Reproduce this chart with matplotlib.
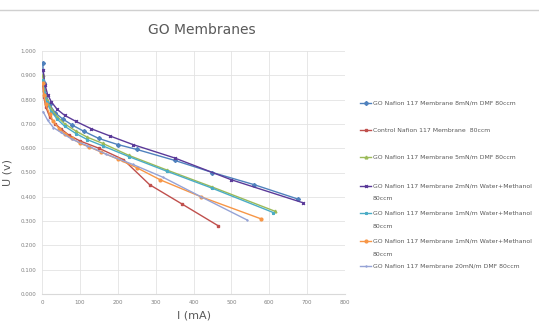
import matplotlib.pyplot as plt
import matplotlib.lines as mlines

# I (mA) / U (V)
i_8mn_dmf = [2, 5, 10, 20, 35, 55, 80, 110, 150, 200, 250, 350, 450, 560, 677]
u_8mn_dmf = [0.95, 0.87, 0.82, 0.78, 0.745, 0.72, 0.695, 0.67, 0.64, 0.615, 0.595, 0.55, 0.50, 0.45, 0.39]

i_control = [2, 5, 10, 20, 35, 50, 70, 100, 150, 215, 284, 370, 466]
u_control = [0.86, 0.81, 0.77, 0.73, 0.70, 0.68, 0.655, 0.63, 0.60, 0.553, 0.45, 0.37, 0.28]

i_5mn_dmf = [2, 6, 12, 25, 40, 60, 90, 120, 160, 230, 330, 450, 616]
u_5mn_dmf = [0.90, 0.84, 0.80, 0.76, 0.73, 0.70, 0.67, 0.645, 0.62, 0.57, 0.51, 0.44, 0.34]

i_2mn_wm = [3, 8, 15, 25, 40, 60, 90, 130, 180, 240, 350, 500, 690]
u_2mn_wm = [0.92, 0.86, 0.82, 0.79, 0.76, 0.735, 0.71, 0.68, 0.65, 0.615, 0.56, 0.47, 0.375]

i_1mn_wm_a = [2, 6, 12, 25, 40, 60, 90, 120, 160, 230, 330, 450, 611]
u_1mn_wm_a = [0.88, 0.83, 0.79, 0.75, 0.72, 0.69, 0.66, 0.635, 0.61, 0.565, 0.505, 0.435, 0.335]

i_1mn_wm_b = [2, 5, 10, 20, 30, 45, 60, 80, 100, 125, 155, 200, 250, 312, 420, 577]
u_1mn_wm_b = [0.87, 0.82, 0.78, 0.74, 0.71, 0.68, 0.66, 0.64, 0.62, 0.605, 0.585, 0.555, 0.52, 0.47, 0.40, 0.31]

i_20mn_dmf = [3, 15, 30, 50, 80, 120, 170, 240, 320, 420, 541]
u_20mn_dmf = [0.75, 0.715, 0.685, 0.665, 0.636, 0.61, 0.575, 0.533, 0.48, 0.40, 0.305]

labels = [
    'GO Nafion 117 Membrane 8mN/m DMF 80ccm',
    'Control Nafion 117 Membrane  80ccm',
    'GO Nafion 117 Membrane 5mN/m DMF 80ccm',
    'GO Nafion 117 Membrane 2mN/m Water+Methanol\n80ccm',
    'GO Nafion 117 Membrane 1mN/m Water+Methanol\n80ccm',
    'GO Nafion 117 Membrane 1mN/m Water+Methanol\n80ccm',
    'GO Nafion 117 Membrane 20mN/m DMF 80ccm',
]
series = [
    (i_8mn_dmf, u_8mn_dmf, '#4F81BD', 'D'),
    (i_control, u_control, '#C0504D', 's'),
    (i_5mn_dmf, u_5mn_dmf, '#9BBB59', '^'),
    (i_2mn_wm, u_2mn_wm, '#5B3A99', 'x'),
    (i_1mn_wm_a, u_1mn_wm_a, '#4BACC6', '*'),
    (i_1mn_wm_b, u_1mn_wm_b, '#F79646', 'o'),
    (i_20mn_dmf, u_20mn_dmf, '#95A3D6', '+'),
]

W, H = 539, 331
fig = plt.figure(figsize=(W / 100, H / 100), dpi=100)
ax = fig.add_axes([42 / W, 1 - 294 / H, 303 / W, 243 / H])

for x, y, c, m in series:
    ax.plot(x, y, color=c, marker=m, markersize=2.0, linewidth=1.0)

ax.set_xlim(0, 800)
ax.set_ylim(0, 1.0)
ax.set_xticks(range(0, 801, 100))
ax.set_yticks([k / 10 for k in range(11)])
ax.set_yticklabels(['%.3f' % (k / 10) for k in range(11)])
ax.tick_params(labelsize=4, colors='#808080', length=0, pad=4)
ax.grid(True, color='#E3E3E3', linewidth=0.6)
for s in ['top', 'right', 'left']:
    ax.spines[s].set_visible(False)
ax.spines['bottom'].set_color('#D9D9D9')

fig.text(202 / W, 1 - 30 / H, 'GO Membranes', fontsize=10, color='#595959', ha='center', va='center')
ax.set_xlabel('I (mA)', fontsize=8, color='#595959', labelpad=4)
ax.set_ylabel('U (v)', fontsize=8, color='#595959', labelpad=6)

# legend drawn by hand so the entry spacing matches the Excel layout
leg_y = [102.7, 130, 157, 186, 213, 241, 266]
for (x, y, c, m), lab, ly in zip(series, labels, leg_y):
    yf = 1 - ly / H
    fig.add_artist(mlines.Line2D([360 / W, 371 / W], [yf, yf], color=c, linewidth=1.0))
    fig.add_artist(mlines.Line2D([365.5 / W], [yf], color=c, marker=m, markersize=2.0))
    for k, line in enumerate(lab.split('\n')):
        fig.text(373 / W, 1 - (ly + 13 * k) / H, line, fontsize=4.4, color='#595959', va='center')

fig.add_artist(mlines.Line2D([0, 1], [1 - 10 / H, 1 - 10 / H], color='#D0D0D0', linewidth=1.0))

plt.savefig('out.png')
plt.close()
